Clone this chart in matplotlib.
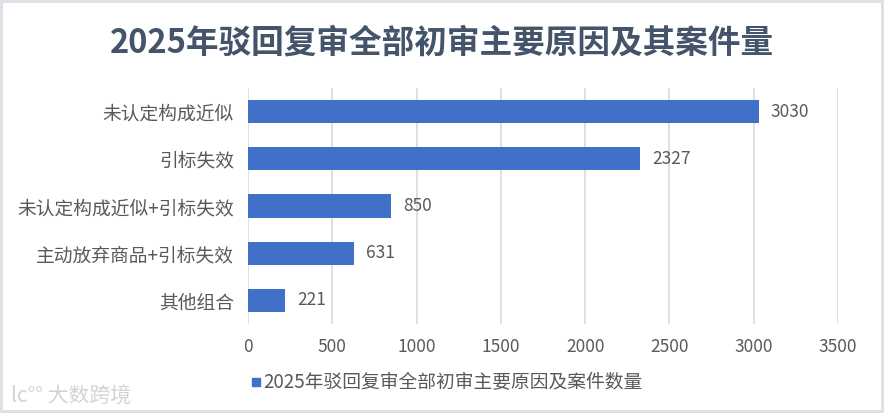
import matplotlib.pyplot as plt
from matplotlib.lines import Line2D

plt.rcParams['font.family'] = ['Noto Sans CJK SC', 'DejaVu Sans']

# 数据
categories = ['未认定构成近似', '引标失效', '未认定构成近似+引标失效', '主动放弃商品+引标失效', '其他组合']
values = [3030, 2327, 850, 631, 221]
xticks = [0, 500, 1000, 1500, 2000, 2500, 3000, 3500]
title = '2025年驳回复审全部初审主要原因及其案件量'
series_name = '2025年驳回复审全部初审主要原因及案件数量'

bar_color = '#4070C8'
text_color = '#595959'

fig = plt.figure(figsize=(8.84, 4.13), dpi=100)
fig.patch.set_facecolor('white')
fig.patch.set_edgecolor('#DEE1E6')
fig.patch.set_linewidth(4)

ax = fig.add_axes([0.2805, 0.2155, 0.6674, 0.5714])
y = list(range(len(categories)))
ax.barh(y, values, height=0.49, color=bar_color, zorder=3)
ax.set_ylim(len(categories) - 0.5, -0.5)
ax.set_xlim(0, 3500)
ax.set_xticks(xticks)
ax.set_xticklabels([str(t) for t in xticks], color=text_color, fontsize=12.5)
ax.set_yticks(y)
ax.set_yticklabels(categories, color=text_color, fontsize=13.5)
ax.tick_params(length=0, pad=10)
ax.tick_params(axis='x', pad=10)
for s in ax.spines.values():
    s.set_visible(False)
ax.grid(axis='x', color='#D9D9D9', linewidth=1.2, zorder=0)

# 数据标签
for yi, v in zip(y, values):
    ax.text(v + 70, yi, str(v), va='center', ha='left', color=text_color, fontsize=12.5)

fig.text(0.5, 0.896, title, ha='center', va='center', fontsize=23.5,
         fontweight='bold', color='#44546A')

handle = Line2D([], [], marker='s', linestyle='none', color=bar_color, markersize=6)
fig.legend([handle], [series_name], loc='center', bbox_to_anchor=(0.505, 0.073),
           frameon=False, fontsize=13.5, handletextpad=0.05, labelcolor=text_color,
           handlelength=0.6)

# 水印
fig.text(0.012, 0.04, 'lc°° 大数跨境', ha='left', va='center', fontsize=15,
         color='#D3D3D3')

plt.savefig('out.png', dpi=100)
plt.close()
